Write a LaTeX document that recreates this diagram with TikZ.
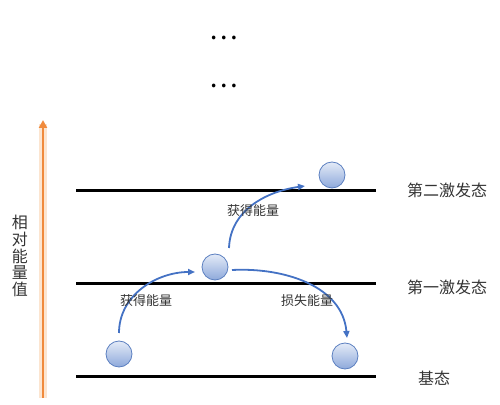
\documentclass[tikz,border=0pt]{standalone}
\usepackage{fontspec}
\setmainfont{Noto Sans CJK SC}
\usetikzlibrary{arrows.meta}
\definecolor{levelc}{HTML}{000000}
\definecolor{arrc}{HTML}{4472C4}
\definecolor{ballc}{HTML}{8EA9DB}
\definecolor{balltop}{HTML}{E4EBF7}
\definecolor{ballline}{HTML}{5B7FC0}
\definecolor{orangec}{HTML}{F08A3C}
\definecolor{glowc}{HTML}{FAD3B0}
\definecolor{txtc}{HTML}{333333}
\tikzset{
  level/.style={line width=3pt, levelc},
  ball/.style={circle, minimum size=26pt, inner sep=0pt, draw=ballline, line width=0.8pt, top color=balltop, bottom color=ballc},
  jump/.style={arrc, line width=1.8pt, -{Triangle[length=7pt,width=6pt]}},
  lbl/.style={txtc, font=\fontsize{13}{13}\selectfont, inner sep=0pt},
  statelbl/.style={txtc, font=\fontsize{16}{16}\selectfont, inner sep=0pt},
  dotsl/.style={black, font=\fontsize{27}{27}\selectfont, inner sep=0pt},
}
\begin{document}
\begin{tikzpicture}[x=1pt,y=1pt]
\useasboundingbox (0,0) rectangle (500,404);
% levels
\coordinate (l2a) at (76,213); \coordinate (l2b) at (376,213);
\coordinate (l1a) at (76,120); \coordinate (l1b) at (376,120);
\coordinate (l0a) at (76,28);  \coordinate (l0b) at (376,28);
\draw[level] (l2a) -- (l2b);
\draw[level] (l1a) -- (l1b);
\draw[level] (l0a) -- (l0b);
% dots
\node[dotsl] (d1) at (224,366) {…};
\node[dotsl] (d2) at (224,318) {…};
% balls
\node[ball] (b1) at (119,50) {};
\node[ball] (b2) at (215,137) {};
\node[ball] (b3) at (345,48) {};
\node[ball] (b4) at (332,229) {};
% arrows
\coordinate (s1) at (119,71); \coordinate (e1) at (195,132);
\coordinate (s2) at (232,134); \coordinate (e2) at (347,66);
\coordinate (s3) at (229,156); \coordinate (e3) at (305,218);
\draw[jump] (s1) to[out=90,in=180] (e1);
\draw[jump] (s2) to[out=3,in=95] (e2);
\draw[jump] (s3) to[out=88,in=188] (e3);
% labels
\node[lbl] (g1) at (146,103) {获得能量};
\node[lbl] (ls) at (307,103) {损失能量};
\node[lbl] (g2) at (253,193) {获得能量};
\node[statelbl] (st2) at (447,214) {第二激发态};
\node[statelbl] (st1) at (447,117) {第一激发态};
\node[statelbl] (st0) at (434,26) {基态};
% energy axis
\coordinate (ab) at (43,6); \coordinate (at) at (43,284);
\draw[glowc, line width=8pt, opacity=0.6] (ab) -- ([yshift=-4pt]at);
\draw[orangec, line width=2.6pt, -{Triangle[length=8pt,width=8pt]}] (ab) -- (at);
\node[txtc, font=\fontsize{16}{16.6}\selectfont, align=center, inner sep=0pt] (ax) at (20,148) {相\\对\\能\\量\\值};
\end{tikzpicture}
\end{document}
